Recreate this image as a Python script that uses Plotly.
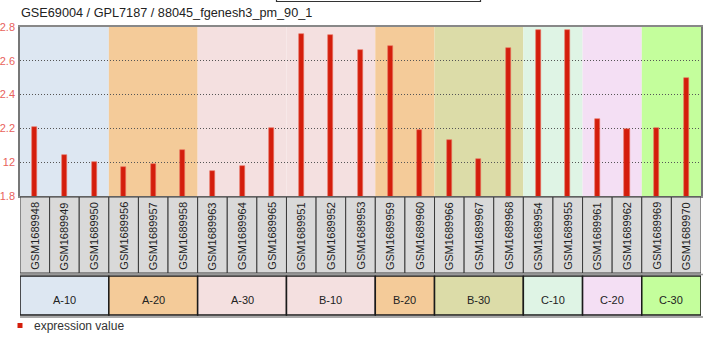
import plotly.graph_objects as go

# Expression profile data
title_text = "GSE69004 / GPL7187 / 88045_fgenesh3_pm_90_1"
samples = [
    "GSM1689948", "GSM1689949", "GSM1689950",
    "GSM1689956", "GSM1689957", "GSM1689958",
    "GSM1689963", "GSM1689964", "GSM1689965",
    "GSM1689951", "GSM1689952", "GSM1689953",
    "GSM1689959", "GSM1689960",
    "GSM1689966", "GSM1689967", "GSM1689968",
    "GSM1689954", "GSM1689955",
    "GSM1689961", "GSM1689962",
    "GSM1689969", "GSM1689970",
]
values = [
    2.21, 2.04, 2.00,
    1.97, 1.99, 2.07,
    1.95, 1.98, 2.20,
    2.76, 2.75, 2.665,
    2.69, 2.19,
    2.13, 2.02, 2.675,
    2.78, 2.78,
    2.255, 2.197,
    2.203, 2.50,
]
groups = ["A-10", "A-20", "A-30", "B-10", "B-20", "B-30", "C-10", "C-20", "C-30"]
group_sizes = [3, 3, 3, 3, 2, 3, 2, 2, 2]
group_colors = ["#dde7f2", "#f4cb99", "#f4e0e0", "#f4e0e0", "#f4cb99",
                "#dcdca8", "#dff4e5", "#f4dff4", "#c4fe9c"]
y_tickvals = [1.8, 2.0, 2.2, 2.4, 2.6, 2.8]
y_ticktext = ["1.8", "12", "2.2", "2.4", "2.6", "2.8"]
legend_label = "expression value"

W, H = 704, 347
ML, MR, MT, MB = 20, 3, 27, 151
PH = H - MT - MB
PW = W - ML - MR
FONT = "Liberation Sans, Arial"


def py(pix):
    """Pixel row -> paper y."""
    return (H - MB - pix) / PH


def px(pix):
    """Pixel column -> paper x."""
    return (pix - ML) / PW


fig = go.Figure()
fig.add_trace(go.Bar(
    x=list(range(len(samples))), y=values, width=0.17,
    marker=dict(color="#d41e0c", line=dict(color="#e8705f", width=0.6)),
    showlegend=False, hoverinfo="x+y",
))

shapes = []
annotations = []
n = len(samples)

# group background bands and group label boxes
start = 0
for g, size, col in zip(groups, group_sizes, group_colors):
    x0, x1 = start - 0.5, start + size - 0.5
    shapes.append(dict(type="rect", xref="x", yref="paper", x0=x0, x1=x1,
                       y0=0, y1=1, fillcolor=col, line=dict(width=0),
                       layer="below"))
    shapes.append(dict(type="rect", xref="x", yref="paper", x0=x0, x1=x1,
                       y0=py(315), y1=py(276), fillcolor=col,
                       line=dict(color="#1a1a1a", width=1.5)))
    annotations.append(dict(text=g, x=(x0 + x1) / 2, y=py(300), xref="x",
                            yref="paper", xanchor="center", yanchor="middle",
                            showarrow=False,
                            font=dict(size=11, color="#222", family=FONT)))
    start += size

# shadow lines under the label rows
shapes.append(dict(type="line", xref="paper", yref="paper", x0=px(20),
                   x1=px(703), y0=py(317), y1=py(317),
                   line=dict(color="#aaaaaa", width=2)))
shapes.append(dict(type="line", xref="paper", yref="paper", x0=px(20),
                   x1=px(703), y0=py(274.5), y1=py(274.5),
                   line=dict(color="#999999", width=1.5)))

# sample name boxes
for i, s in enumerate(samples):
    shapes.append(dict(type="rect", xref="x", yref="paper", x0=i - 0.5,
                       x1=i + 0.5, y0=py(273), y1=py(197),
                       fillcolor="#d9d9d9", line=dict(color="#3a3a3a", width=1)))
    annotations.append(dict(text=s, x=i, y=py(236), xref="x", yref="paper",
                            xanchor="center", yanchor="middle",
                            showarrow=False, textangle=-90,
                            font=dict(size=11, color="#222", family=FONT)))

# legend entry
shapes.append(dict(type="rect", xref="paper", yref="paper", x0=px(17.5),
                   x1=px(22.5), y0=py(328), y1=py(323),
                   fillcolor="#d41e0c", line=dict(width=0)))
annotations.append(dict(text=legend_label, x=px(32), y=py(326), xref="paper",
                        yref="paper", xanchor="left", yanchor="middle",
                        showarrow=False,
                        font=dict(size=12, color="#333", family=FONT)))

# title
annotations.append(dict(text=title_text, x=px(19), y=py(13), xref="paper",
                        yref="paper", xanchor="left", yanchor="middle",
                        showarrow=False,
                        font=dict(size=12.7, color="#222", family=FONT)))

# box outline near the top edge
shapes.append(dict(type="rect", xref="paper", yref="paper", x0=px(276.5),
                   x1=px(480.5), y0=py(1.5), y1=py(-20),
                   line=dict(color="#333", width=1.2), fillcolor="white"))

fig.update_layout(
    width=W, height=H,
    margin=dict(l=ML, r=MR, t=MT, b=MB, pad=0, autoexpand=False),
    paper_bgcolor="white", plot_bgcolor="white",
    shapes=shapes, annotations=annotations,
    bargap=0,
    xaxis=dict(range=[-0.5, n - 0.5], showticklabels=False, showgrid=False,
               zeroline=False, showline=True, mirror=True, automargin=False,
               linecolor="#888", linewidth=1.5, fixedrange=True),
    yaxis=dict(range=[1.8, 2.8], tickvals=y_tickvals, ticktext=y_ticktext,
               tickfont=dict(size=11, color="#e8625c", family=FONT),
               showgrid=True, gridcolor="#555555", griddash="1px,2px",
               gridwidth=1, zeroline=False, showline=True, mirror=True,
               automargin=False,
               linecolor="#777", linewidth=1.5, ticks="", ticklabelstandoff=1,
               fixedrange=True),
    showlegend=False,
)

fig.write_html("out.html", config={"displayModeBar": False})
